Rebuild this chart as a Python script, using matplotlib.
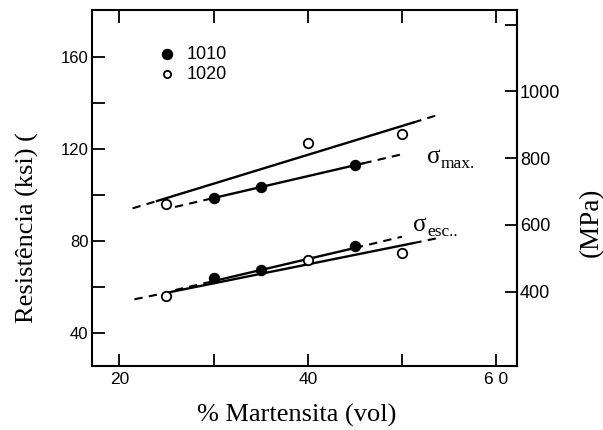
import matplotlib.pyplot as plt

# measured points (% martensite, ksi)
x_1010 = [30, 35, 45]
max_1010 = [98.7, 103.6, 113.0]
esc_1010 = [63.8, 67.4, 78.0]

x_1020 = [25, 40, 50]
max_1020 = [96.0, 122.7, 126.4]
esc_1020 = [56.1, 71.7, 74.6]

# fitted lines: dashed start, solid start, solid end, dashed end
fit_max_1020_x = [21.4, 24.0, 51.2, 53.8]
fit_max_1020_y = [94.2, 97.4, 131.5, 134.8]
fit_max_1010_x = [25.9, 30.0, 45.9, 50.3]
fit_max_1010_y = [94.8, 98.7, 113.8, 118.0]
fit_esc_1020_x = [21.6, 25.6, 51.2, 53.7]
fit_esc_1020_y = [54.7, 58.0, 79.1, 81.2]
fit_esc_1010_x = [25.9, 30.0, 45.0, 50.0]
fit_esc_1010_y = [58.7, 62.6, 77.0, 81.9]

x_ticks = [20, 30, 40, 50, 60]
x_labels = ['20', '', '40', '', '6 0']
ksi_ticks = [40, 60, 80, 100, 120, 140, 160]
ksi_labels = ['40', '', '80', '', '120', '', '160']
mpa_ticks = [400, 600, 800, 1000, 1200]
mpa_labels = ['400', '600', '800', '1000', '']

KSI_TO_MPA = 6.895

fig = plt.figure(figsize=(6.03, 4.30), dpi=100)
ax = fig.add_axes([0.1526, 0.1488, 0.7048, 0.828])
ax.set_xlim(17.1, 62.2)
ax.set_ylim(25.7, 180.4)

dash = (0, (4, 3))
for fx, fy in [(fit_max_1020_x, fit_max_1020_y), (fit_max_1010_x, fit_max_1010_y),
               (fit_esc_1020_x, fit_esc_1020_y), (fit_esc_1010_x, fit_esc_1010_y)]:
    ax.plot(fx[0:2], fy[0:2], color='black', lw=1.5, ls=dash)
    ax.plot(fx[1:3], fy[1:3], color='black', lw=1.7)
    ax.plot(fx[2:4], fy[2:4], color='black', lw=1.5, ls=dash)

for ys in (max_1010, esc_1010):
    ax.plot(x_1010, ys, 'o', color='black', ms=7.2, zorder=5)
for ys in (max_1020, esc_1020):
    ax.plot(x_1020, ys, 'o', mfc='white', mec='black', mew=1.3, ms=6.8, zorder=5)

sans = 'Liberation Sans'
ax.set_xticks(x_ticks)
ax.set_xticklabels(x_labels, family=sans, size=12.5)
ax.set_yticks(ksi_ticks)
ax.set_yticklabels(ksi_labels, family=sans, size=12)
ax.tick_params(axis='x', direction='in', length=9, width=1.3, top=True, pad=4.5)
ax.tick_params(axis='y', direction='in', length=9, width=1.3, right=False, pad=2.5)
for s in ax.spines.values():
    s.set_linewidth(1.5)

sec = ax.secondary_yaxis('right', functions=(lambda v: v * KSI_TO_MPA,
                                             lambda v: v / KSI_TO_MPA))
sec.set_yticks(mpa_ticks)
sec.set_yticklabels(mpa_labels, family=sans, size=13)
sec.tick_params(direction='in', length=9, width=1.3, pad=2)
sec.spines['right'].set_linewidth(1.5)

# key in the upper left corner
ax.plot([0.1765], [0.876], 'o', color='black', ms=7.2, transform=ax.transAxes)
ax.plot([0.1765], [0.820], 'o', mfc='white', mec='black', mew=1.3, ms=5.2,
        transform=ax.transAxes)
ax.text(0.2235, 0.876, '1010', transform=ax.transAxes, family=sans, size=13,
        va='center', ha='left')
ax.text(0.2235, 0.820, '1020', transform=ax.transAxes, family=sans, size=13,
        va='center', ha='left')

serif = 'Liberation Serif'
ax.text(52.66, 116.5, 'σ', family=serif, fontsize=18, ha='left', va='center')
ax.text(54.1, 113.6, 'max.', family=serif, fontsize=12.5, ha='left', va='center')
ax.text(51.17, 87.0, 'σ', family=serif, fontsize=18, ha='left', va='center')
ax.text(52.7, 84.0, 'esc..', family=serif, fontsize=12.5, ha='left', va='center')

fig.text(0.4925, 0.0186, '% Martensita (vol)', family=serif, fontsize=19,
         ha='center', va='baseline')
fig.text(0.045, 0.47, 'Resistência (ksi) (', family=serif, fontsize=19,
         ha='center', va='center', rotation=90)
fig.text(0.980, 0.484, '(MPa)', family=serif, fontsize=19.5,
         ha='center', va='center', rotation=90)

fig.savefig('out.png', dpi=100)
